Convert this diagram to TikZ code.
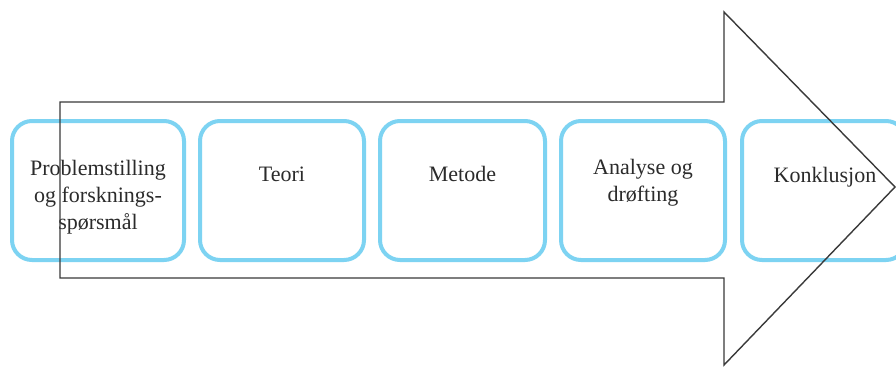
\documentclass[tikz,border=0pt]{standalone}
\usepackage{fontspec}
\setmainfont{Liberation Serif}
\definecolor{boxblue}{HTML}{7DD3F2}
\definecolor{txtgray}{HTML}{2B2B2B}
\definecolor{arrowgray}{HTML}{3A3A3A}
\tikzset{
  stepbox/.style={draw=boxblue, line width=4pt, rounded corners=20pt, minimum height=139pt, inner sep=0pt},
  steptext/.style={font=\fontsize{22}{27}\selectfont, text=txtgray, align=center, inner sep=0pt},
  bigarrow/.style={draw=arrowgray, line width=1.4pt, line join=miter}
}
\begin{document}
\begin{tikzpicture}[x=1pt,y=-1pt]
\useasboundingbox (0,0) rectangle (896,367);
\clip (0,0) rectangle (896,367);
\fill[white] (0,0) rectangle (896,367);
\node[stepbox, minimum width=172pt] (b1) at (98,190.5) {};
\node[stepbox, minimum width=164pt] (b2) at (282,190.5) {};
\node[stepbox, minimum width=165pt] (b3) at (462.5,190.5) {};
\node[stepbox, minimum width=164pt] (b4) at (643,190.5) {};
\node[stepbox, minimum width=164pt] (b5) at (824,190.5) {};
\node[steptext] (t1) at (98,197) {Problemstilling\\og forsknings-\\spørsmål};
\node[steptext, anchor=base] (t2) at (282,181) {Teori};
\node[steptext, anchor=base] (t3) at (462.5,181) {Metode};
\node[steptext] (t4) at (643,183) {Analyse og\\drøfting};
\node[steptext, anchor=base] (t5) at (825,182) {Konklusjon};
\coordinate (a1) at (60,102);
\coordinate (a2) at (724,102);
\coordinate (a3) at (724,12);
\coordinate (a4) at (895,187);
\coordinate (a5) at (724,365);
\coordinate (a6) at (724,278);
\coordinate (a7) at (60,278);
\draw[bigarrow] (a1) -- (a2) -- (a3) -- (a4) -- (a5) -- (a6) -- (a7) -- cycle;
\end{tikzpicture}
\end{document}
